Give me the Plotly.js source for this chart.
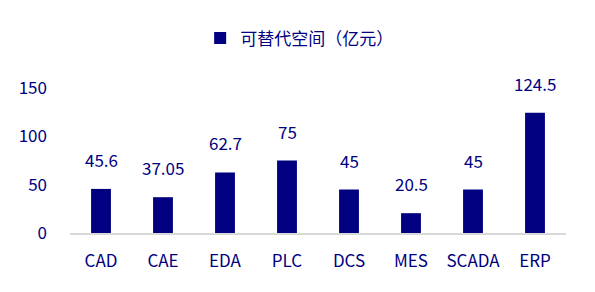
<!DOCTYPE html>
<html><head><meta charset="utf-8">
<script src="https://cdn.plot.ly/plotly-3.0.1.min.js"></script>
<style>body{margin:0;padding:0;background:#fff}#c{width:595px;height:292px}</style>
</head><body><div id="c"></div>
<script>
const categories = ["CAD","CAE","EDA","PLC","DCS","MES","SCADA","ERP"];
const values = [45.6, 37.05, 62.7, 75, 45, 20.5, 45, 124.5];
const labels = ["45.6","37.05","62.7","75","45","20.5","45","124.5"];
const seriesName = "可替代空间（亿元）";
const yTicks = [0, 50, 100, 150];

const navy = "#000080";
const font = "'Noto Sans CJK SC', 'Noto Sans', sans-serif";
const annotations = categories.map((c, i) => ({
  x: c, y: values[i], xref: "x", yref: "y", text: labels[i], showarrow: false,
  yanchor: "bottom", yshift: 15, font: {family: font, size: 17, color: navy}
}));
Plotly.newPlot("c", [{
  type: "bar", x: categories, y: values, name: seriesName,
  marker: {color: navy}
}], {
  width: 595, height: 292,
  margin: {l: 70, r: 29, t: 88, b: 59},
  paper_bgcolor: "#fff", plot_bgcolor: "#fff",
  bargap: 0.68,
  showlegend: true,
  annotations: annotations,
  legend: {orientation: "h", x: 0.462, xanchor: "center", xref: "paper", y: 0.93, yref: "container", yanchor: "top",
    font: {family: font, size: 17, color: navy}, itemwidth: 30},
  xaxis: {showline: true, linecolor: "#d9d9d9", linewidth: 2, ticks: "", showgrid: false, zeroline: false,
    tickfont: {family: font, size: 17, color: navy}, ticklabelstandoff: 12, fixedrange: true},
  yaxis: {range: [0, 150], tickvals: yTicks, showgrid: false, zeroline: false, showline: false, ticks: "",
    tickfont: {family: font, size: 17, color: navy}, ticklabelstandoff: 22, fixedrange: true}
}, {displayModeBar: false, staticPlot: true});
</script></body></html>
